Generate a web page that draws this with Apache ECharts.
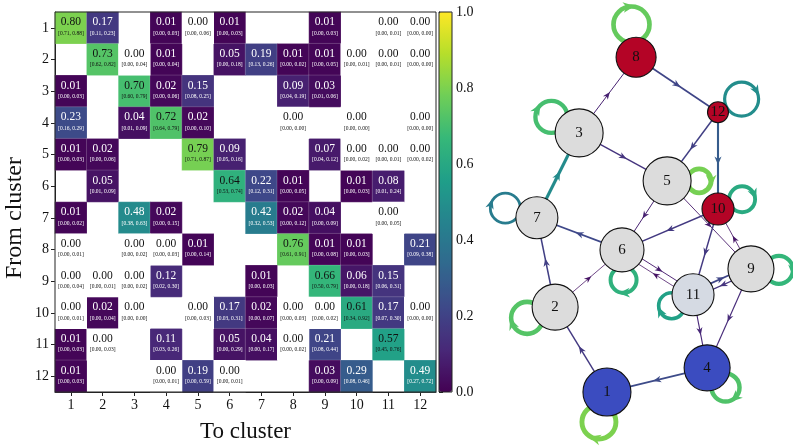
<!DOCTYPE html>
<html><head><meta charset="utf-8">
<script src="https://cdn.jsdelivr.net/npm/echarts@6/dist/echarts.min.js"></script>
<style>html,body{margin:0;padding:0;background:#fff}#c{width:793px;height:446px}</style>
</head><body><div id="c"></div>
<script>
// ---------------- DATA ----------------
const clusters = ['1','2','3','4','5','6','7','8','9','10','11','12'];
// mean transition probability, rows = from cluster, cols = to cluster (null = no transition observed)
const meanP = [
  [0.80,0.17,null,0.01,0.00,0.01,null,null,0.01,null,0.00,0.00],
  [null,0.73,0.00,0.01,null,0.05,0.19,0.01,0.01,0.00,0.00,0.00],
  [0.01,null,0.70,0.02,0.15,null,null,0.09,0.03,null,null,null],
  [0.23,null,0.04,0.72,0.02,null,null,0.00,null,0.00,null,0.00],
  [0.01,0.02,null,null,0.79,0.09,null,null,0.07,0.00,0.00,0.00],
  [null,0.05,null,null,null,0.64,0.22,0.01,null,0.01,0.08,null],
  [0.01,null,0.48,0.02,null,null,0.42,0.02,0.04,null,0.00,null],
  [0.00,null,0.00,0.00,0.01,null,null,0.76,0.01,0.01,null,0.21],
  [0.00,0.00,0.00,0.12,null,null,0.01,null,0.66,0.06,0.15,null],
  [0.00,0.02,0.00,null,0.00,0.17,0.02,0.00,0.00,0.61,0.17,0.00],
  [0.01,0.00,null,0.11,null,0.05,0.04,0.00,0.21,null,0.57,null],
  [0.01,null,null,0.00,0.19,0.00,null,null,0.03,0.29,null,0.49]
];
const ciLow = [
  [0.71,0.11,null,0.00,0.00,0.00,null,null,0.00,null,0.00,0.00],
  [null,0.62,0.00,0.00,null,0.00,0.13,0.00,0.00,0.00,0.00,0.00],
  [0.00,null,0.60,0.00,0.08,null,null,0.04,0.01,null,null,null],
  [0.16,null,0.01,0.64,0.00,null,null,0.00,null,0.00,null,0.00],
  [0.00,0.00,null,null,0.71,0.05,null,null,0.04,0.00,0.00,0.00],
  [null,0.01,null,null,null,0.53,0.12,0.00,null,0.00,0.01,null],
  [0.00,null,0.38,0.00,null,null,0.32,0.00,0.00,null,0.00,null],
  [0.00,null,0.00,0.00,0.00,null,null,0.61,0.00,0.00,null,0.09],
  [0.00,0.00,0.00,0.02,null,null,0.00,null,0.50,0.00,0.06,null],
  [0.00,0.00,0.00,null,0.00,0.03,0.00,0.00,0.00,0.34,0.07,0.00],
  [0.00,0.00,null,0.03,null,0.00,0.00,0.00,0.08,null,0.45,null],
  [0.00,null,null,0.00,0.00,0.00,null,null,0.00,0.08,null,0.27]
];
const ciHigh = [
  [0.88,0.23,null,0.03,0.06,0.03,null,null,0.03,null,0.01,0.00],
  [null,0.82,0.04,0.04,null,0.18,0.26,0.02,0.05,0.01,0.01,0.00],
  [0.03,null,0.79,0.06,0.25,null,null,0.19,0.06,null,null,null],
  [0.29,null,0.09,0.79,0.10,null,null,0.00,null,0.00,null,0.00],
  [0.03,0.06,null,null,0.87,0.16,null,null,0.12,0.02,0.01,0.02],
  [null,0.09,null,null,null,0.74,0.31,0.05,null,0.03,0.24,null],
  [0.02,null,0.63,0.15,null,null,0.53,0.12,0.09,null,0.05,null],
  [0.01,null,0.02,0.03,0.14,null,null,0.91,0.08,0.03,null,0.38],
  [0.04,0.01,0.02,0.30,null,null,0.03,null,0.79,0.18,0.31,null],
  [0.01,0.04,0.00,null,0.03,0.31,0.07,0.03,0.02,0.92,0.30,0.00],
  [0.03,0.03,null,0.26,null,0.29,0.17,0.02,0.44,null,0.76,null],
  [0.03,null,null,0.01,0.59,0.01,null,null,0.09,0.46,null,0.72]
];
const colorbarMin = 0, colorbarMax = 1, colorbarStep = 0.2;
// directed edges drawn in the network (from, to)
const edges = [[1,2],[2,7],[2,6],[3,8],[3,5],[4,1],[5,6],[5,9],[6,7],[6,11],[7,3],[8,12],
               [9,4],[9,10],[9,11],[10,6],[10,11],[11,4],[11,9],[11,6],[12,5],[12,10]];

// ---------------- LAYOUT / STYLE ----------------
const nodePos = [[42.8,10.9],[26.6,30.2],[34.1,69.8],[74.1,16.4],[61.6,58.9],[47.5,43.2],
                 [20.9,50.5],[51.9,87.0],[87.8,38.9],[77.5,52.5],[69.7,33.0],[77.5,74.5]];
const nodeRadius = [24,23,24,23,24,22,21,20,23,16,21,10.5];
const RED = '#b40426', BLUE = '#3b4cc0', GREY = '#dcdcdc';
const nodeColor = [BLUE,GREY,GREY,BLUE,GREY,GREY,GREY,RED,GREY,RED,'#d5dae3',RED];
const loopAngle = [105,159,210,47,0,87,197,262,2,338,153,331];
const loopDist = [31,30,32,27,32,30,33,33,28,26,24,27];
const loopRadius = [17,16,16,14,12,13,15,18,14,13,13,17];
const FONT = 'Liberation Serif';
const viridisStops = ['#440154','#482878','#3e4989','#31688e','#26828e','#1f9e89','#35b779','#6ece58','#b5de2b','#fde725'];

function hexRgb(h){return [parseInt(h.slice(1,3),16),parseInt(h.slice(3,5),16),parseInt(h.slice(5,7),16)];}
function viridis(t){
  t = Math.max(0, Math.min(1, t));
  const n = viridisStops.length - 1, f = t * n, i = Math.min(n - 1, Math.floor(f)), w = f - i;
  const a = hexRgb(viridisStops[i]), b = hexRgb(viridisStops[i+1]);
  return 'rgb(' + a.map((x,k)=>Math.round(x + (b[k]-x)*w)).join(',') + ')';
}

const mainCells = [], zeroCells = [];
for (let r = 0; r < 12; r++) for (let c = 0; c < 12; c++) {
  const v = meanP[r][c];
  if (v === null) continue;
  const item = [c, r, v, ciLow[r][c], ciHigh[r][c]];
  (v === 0 ? zeroCells : mainCells).push(item);
}
function cellLabel(p){
  const [c, r, v, lo, hi] = p.value;
  const k = (v >= 0.5 || v === 0) ? 'b' : 'w';
  return '{v' + k + '|' + v.toFixed(2) + '}\n{c' + k + '|[' + lo.toFixed(2) + ', ' + hi.toFixed(2) + ']}';
}
const rich = {
  vw:{fontFamily:FONT,fontSize:11.5,color:'#fff',lineHeight:11},
  cw:{fontFamily:FONT,fontSize:5.5,color:'#fff',lineHeight:11},
  vb:{fontFamily:FONT,fontSize:11.5,color:'#111',lineHeight:11},
  cb:{fontFamily:FONT,fontSize:5.5,color:'#111',lineHeight:11}
};

function arrowPts(mx, my, ux, uy, L, W){
  const nx = -uy, ny = ux;
  return [[mx + ux*L/2, my + uy*L/2],
          [mx - ux*L/2 + nx*W, my - uy*L/2 + ny*W],
          [mx - ux*L*0.2, my - uy*L*0.2],
          [mx - ux*L/2 - nx*W, my - uy*L/2 - ny*W]];
}
function hasEdge(a,b){return edges.some(e=>e[0]===a&&e[1]===b);}

function edgeItem(params, api){
  const e = edges[params.dataIndex];
  const s = e[0]-1, t = e[1]-1, v = meanP[s][t];
  const a = api.coord(nodePos[s]), b = api.coord(nodePos[t]);
  const dx = b[0]-a[0], dy = b[1]-a[1], L = Math.hypot(dx,dy), ux = dx/L, uy = dy/L;
  const off = hasEdge(e[1], e[0]) ? 3.2 : 0;
  const ox = uy*off, oy = -ux*off;
  const x1 = a[0]+ox, y1 = a[1]+oy, x2 = b[0]+ox, y2 = b[1]+oy;
  const col = viridis(v), w = 0.5 + 5.5*v;
  const mx = (x1+x2)/2, my = (y1+y2)/2;
  return {type:'group', children:[
    {type:'line', shape:{x1,y1,x2,y2}, style:{stroke:col, lineWidth:w}},
    {type:'polygon', shape:{points:arrowPts(mx,my,ux,uy,7+5*v,2.8+2.5*v)}, style:{fill:col}}
  ]};
}
function loopItem(params, api){
  const i = params.dataIndex, v = meanP[i][i];
  const c0 = api.coord(nodePos[i]);
  const th = loopAngle[i]*Math.PI/180;
  const cx = c0[0] + loopDist[i]*Math.cos(th), cy = c0[1] + loopDist[i]*Math.sin(th);
  const r = loopRadius[i], col = viridis(v), w = 0.5 + 5.5*v;
  const px = cx + r*Math.cos(th), py = cy + r*Math.sin(th);
  const ux = -Math.sin(th), uy = Math.cos(th);
  return {type:'group', children:[
    {type:'circle', shape:{cx,cy,r}, style:{fill:'none', stroke:col, lineWidth:w}},
    {type:'polygon', shape:{points:arrowPts(px,py,ux,uy,8+5*v,3+3*v)}, style:{fill:col}}
  ]};
}

const axisCommon = {
  axisLine:{show:true,lineStyle:{color:'#222',width:1}},
  axisTick:{show:true,alignWithLabel:true,length:4,lineStyle:{color:'#222'}},
  axisLabel:{fontFamily:FONT,fontSize:14,color:'#111'},
  splitLine:{show:false}, splitArea:{show:false}
};

const chart = echarts.init(document.getElementById('c'));
chart.setOption({
  animation:false,
  backgroundColor:'#fff',
  grid:[
    {left:55, top:12, width:381, height:380, show:true, borderColor:'#222', borderWidth:1, backgroundColor:'transparent', z:10, outerBoundsMode:'none'},
    {left:439, top:12, width:13, height:380, show:true, borderColor:'#222', borderWidth:1, backgroundColor:'transparent', z:10, outerBoundsMode:'none'},
    {left:470, top:0, width:320, height:440, show:false, outerBoundsMode:'none'}
  ],
  xAxis:[
    Object.assign({}, axisCommon, {type:'category', gridIndex:0, data:clusters, position:'bottom',
      axisLabel:{fontFamily:FONT,fontSize:14,color:'#111',margin:6},
      name:'To cluster', nameLocation:'middle', nameGap:28,
      nameTextStyle:{fontFamily:FONT,fontSize:23,color:'#111'}}),
    {type:'value', gridIndex:1, show:false, min:0, max:1},
    {type:'value', gridIndex:2, show:false, min:0, max:100}
  ],
  yAxis:[
    Object.assign({}, axisCommon, {type:'category', gridIndex:0, data:clusters, inverse:true,
      axisLabel:{fontFamily:FONT,fontSize:14,color:'#111',margin:6}}),
    {type:'value', gridIndex:1, position:'right', min:colorbarMin, max:colorbarMax, interval:colorbarStep,
      axisLine:{show:true,lineStyle:{color:'#222'}},
      axisTick:{show:true,length:4,inside:false,lineStyle:{color:'#222'}},
      axisLabel:{fontFamily:FONT,fontSize:14,color:'#111',margin:4,formatter:v=>v.toFixed(1)},
      splitLine:{show:false}},
    {type:'value', gridIndex:2, show:false, min:0, max:100}
  ],
  visualMap:{
    type:'continuous', min:colorbarMin, max:colorbarMax, seriesIndex:0, dimension:2, calculable:false,
    left:439, top:12, itemWidth:13, itemHeight:380, padding:0, text:null,
    inRange:{color:viridisStops}, hoverLink:false
  },
  graphic:[
    {type:'text', x:15, y:218, rotation:Math.PI/2,
     style:{text:'From cluster', font:'24px "Liberation Serif"', fill:'#111', align:'center', verticalAlign:'middle'}}
  ],
  series:[
    {type:'heatmap', xAxisIndex:0, yAxisIndex:0, data:mainCells,
     itemStyle:{borderColor:'rgba(255,255,255,0.22)', borderWidth:0.8},
     label:{show:true, formatter:cellLabel, rich:rich}, emphasis:{disabled:true}, z:2},
    {type:'heatmap', xAxisIndex:0, yAxisIndex:0, data:zeroCells,
     itemStyle:{color:'#ffffff'},
     label:{show:true, formatter:cellLabel, rich:rich}, emphasis:{disabled:true}, z:2},
    {type:'custom', coordinateSystem:'cartesian2d', xAxisIndex:2, yAxisIndex:2,
     data:edges.map(e=>[e[0], e[1], meanP[e[0]-1][e[1]-1]]), renderItem:edgeItem, z:3, silent:true},
    {type:'custom', coordinateSystem:'cartesian2d', xAxisIndex:2, yAxisIndex:2,
     data:clusters.map((c,i)=>[i+1, meanP[i][i]]), renderItem:loopItem, z:3, silent:true},
    {type:'scatter', xAxisIndex:2, yAxisIndex:2, z:5, silent:true,
     data:nodePos.map((p,i)=>({value:p, name:clusters[i], symbolSize:nodeRadius[i]*2,
       itemStyle:{color:nodeColor[i], borderColor:'#111', borderWidth:1.1, opacity:1}})),
     label:{show:true, position:'inside', formatter:'{b}', fontFamily:FONT, fontSize:15, color:'#111'},
     emphasis:{disabled:true}}
  ]
});
</script></body></html>
